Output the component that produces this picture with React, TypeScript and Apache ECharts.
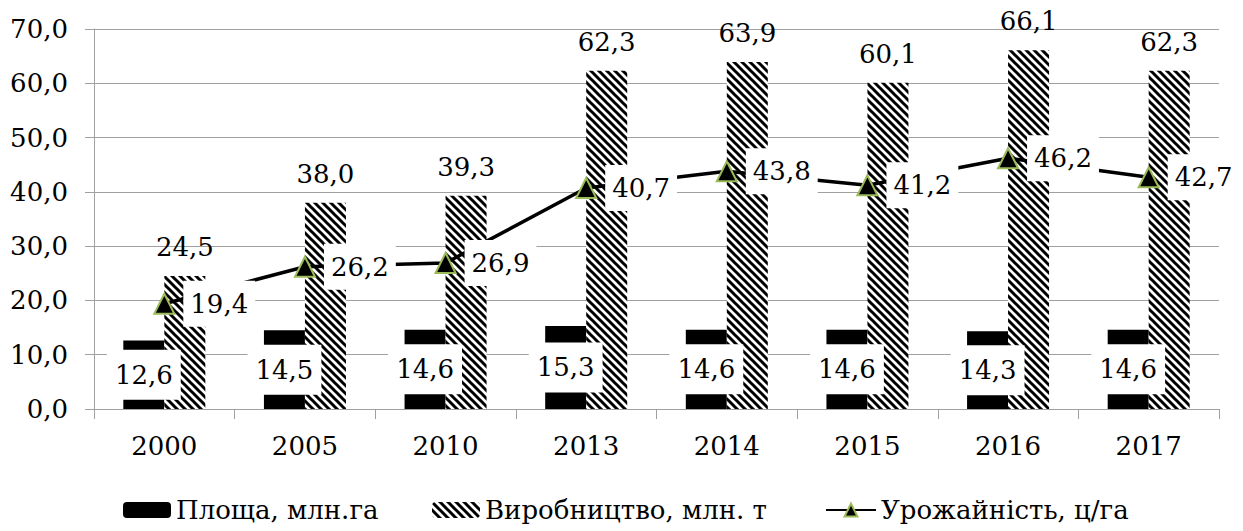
import React, { useEffect, useRef } from "react";
import * as echarts from "echarts";

const years = ["2000", "2005", "2010", "2013", "2014", "2015", "2016", "2017"];
const area = [12.6, 14.5, 14.6, 15.3, 14.6, 14.6, 14.3, 14.6];
const production = [24.5, 38.0, 39.3, 62.3, 63.9, 60.1, 66.1, 62.3];
const yieldVals = [19.4, 26.2, 26.9, 40.7, 43.8, 41.2, 46.2, 42.7];
const seriesNames = ["Площа, млн.га", "Виробництво, млн. т", "Урожайність, ц/га"];

const FONT = "DejaVu Serif";
const FS = 26;

const fmt = (v: number) => v.toFixed(1).replace(".", ",");

const hatchSvg =
  '<svg xmlns="http://www.w3.org/2000/svg" width="8" height="8">' +
  '<rect width="8" height="8" fill="#fff"/>' +
  '<path d="M-2,-2 L10,10 M-2,6 L2,10 M6,-2 L10,2" stroke="#000" stroke-width="3"/>' +
  "</svg>";
const hatchUrl = "data:image/svg+xml;charset=utf-8," + encodeURIComponent(hatchSvg);

export default function App() {
  const ref = useRef<HTMLDivElement>(null);
  useEffect(() => {
    if (!ref.current) return;
    const chart = echarts.init(ref.current, null, { renderer: "svg" });
    const hatch: any = { image: hatchUrl, repeat: "repeat", imageWidth: 8, imageHeight: 8 };
    const lbl = { fontFamily: FONT, fontSize: FS, color: "#000" };
    const legendLefts = [123, 432, 825];
    chart.setOption({
      animation: false,
      backgroundColor: "#fff",
      textStyle: { fontFamily: FONT },
      grid: { left: 94, right: 24, top: 29, bottom: 122, containLabel: false, outerBoundsMode: "none" },
      legend: seriesNames.map((n, i) => ({
        top: 497,
        left: legendLefts[i],
        itemWidth: i === 2 ? 50 : 48,
        itemHeight: 16,
        padding: 0,
        textStyle: { ...lbl },
        data: [n],
      })),
      xAxis: {
        type: "category",
        data: years,
        axisLine: { lineStyle: { color: "#a0a0a0", width: 1 } },
        axisTick: { show: true, length: 10, lineStyle: { color: "#a0a0a0" } },
        axisLabel: { ...lbl, margin: 24 },
      },
      yAxis: {
        type: "value",
        min: 0,
        max: 70,
        interval: 10,
        axisLine: { show: true, lineStyle: { color: "#a0a0a0", width: 1 } },
        axisTick: { show: true, length: 9, lineStyle: { color: "#a0a0a0" } },
        splitLine: { show: true, lineStyle: { color: "#a0a0a0", width: 1 } },
        axisLabel: { ...lbl, margin: 26, formatter: (v: number) => fmt(v) },
      },
      series: [
        {
          name: seriesNames[0],
          type: "bar",
          data: area,
          barWidth: 41,
          barGap: "0%",
          itemStyle: { color: "#000" },
          label: {
            show: true,
            position: "inside",
            ...lbl,
            backgroundColor: "#fff",
            padding: [12, 8],
            formatter: (p: any) => fmt(p.value),
          },
        },
        {
          name: seriesNames[1],
          type: "bar",
          data: production,
          barWidth: 41,
          barGap: "0%",
          itemStyle: { color: hatch },
          label: {
            show: true,
            position: "top",
            distance: 16,
            ...lbl,
            formatter: (p: any) => fmt(p.value),
          },
        },
        {
          name: seriesNames[2],
          type: "line",
          data: yieldVals,
          symbol: "triangle",
          symbolSize: 20,
          itemStyle: { color: "#000", borderColor: "#9BBB59", borderWidth: 2 },
          lineStyle: { color: "#000", width: 3.5 },
          label: {
            show: true,
            position: "right",
            distance: 8,
            ...lbl,
            backgroundColor: "#fff",
            padding: [10, 7],
            formatter: (p: any) => fmt(p.value),
          },
          z: 5,
        },
      ],
    });
    return () => chart.dispose();
  }, []);
  return (
    <div
      ref={ref}
      style={{ position: "fixed", left: 0, top: 0, width: 1243, height: 531 }}
    />
  );
}
